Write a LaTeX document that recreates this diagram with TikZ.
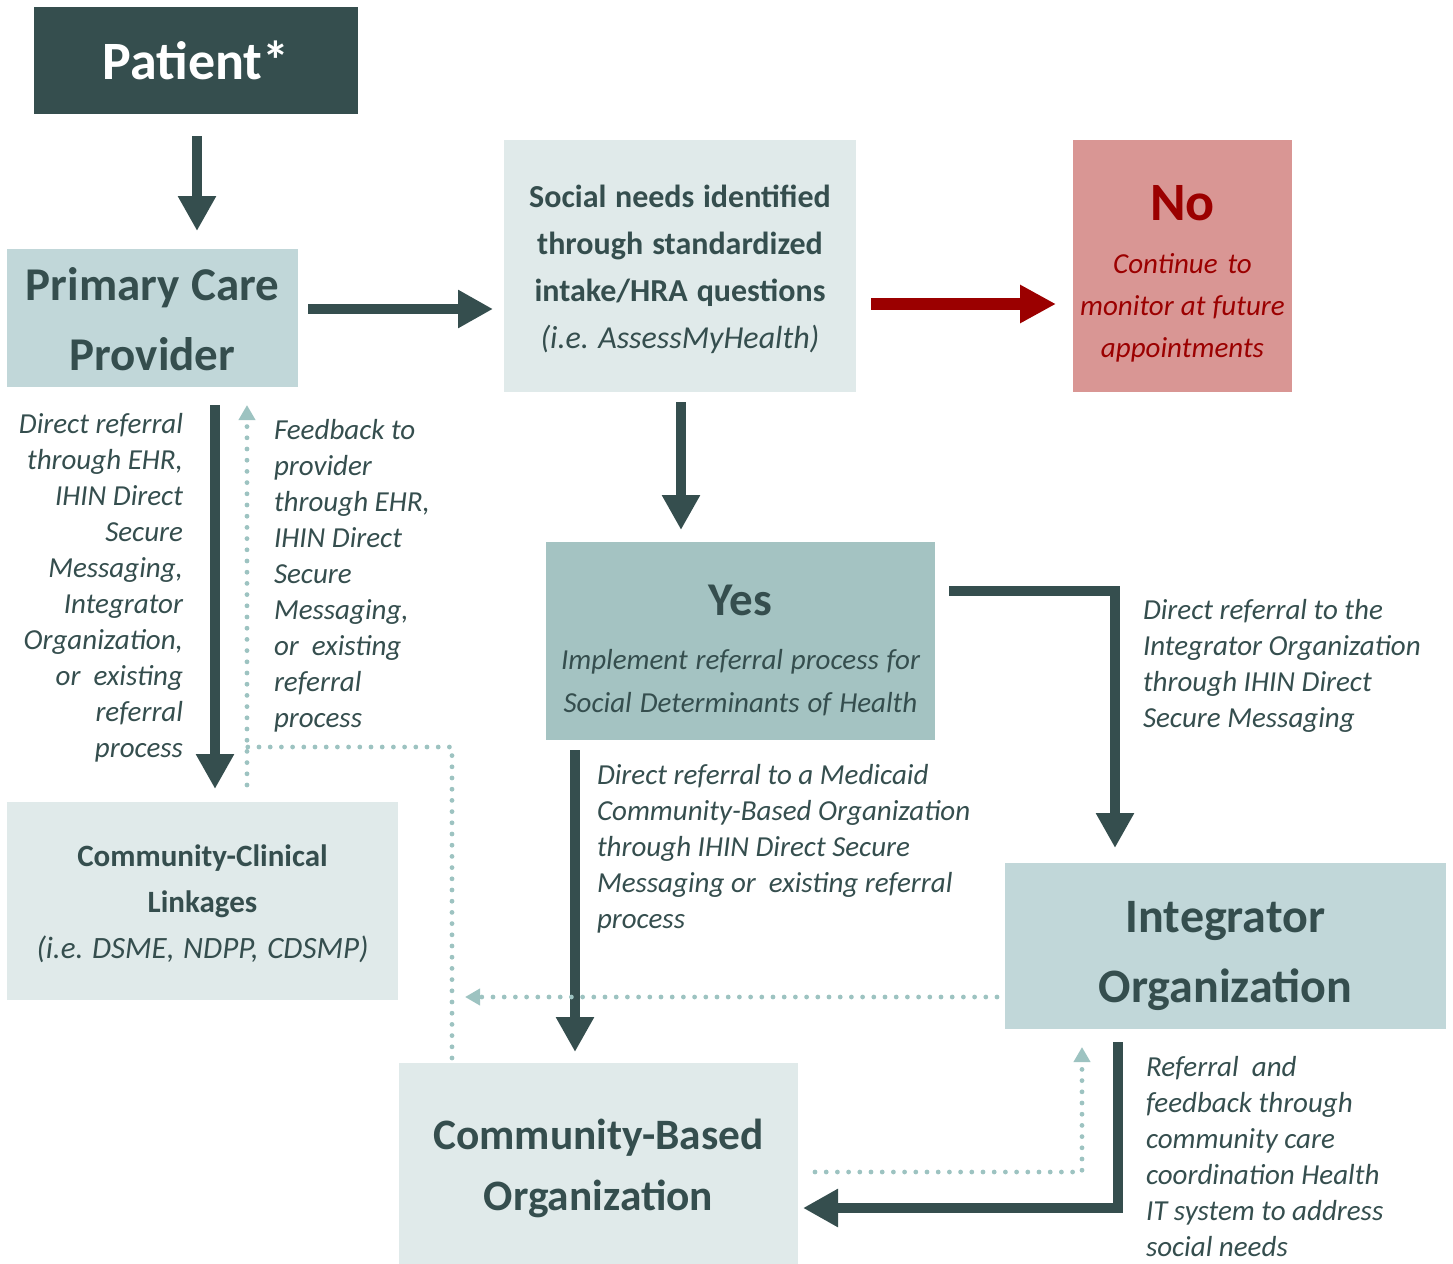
\documentclass[tikz,border=0pt]{standalone}
\usepackage{fontspec}
\setmainfont{Carlito}
\usetikzlibrary{arrows.meta}
\definecolor{dk}{RGB}{53,78,78}
\definecolor{lt}{RGB}{193,215,217}
\definecolor{pale}{RGB}{224,234,234}
\definecolor{mid}{RGB}{164,195,194}
\definecolor{pink}{RGB}{217,150,148}
\definecolor{rd}{RGB}{155,0,0}
\definecolor{dot}{RGB}{157,195,193}
\newcommand{\topstrut}[2]{\rule{0pt}{\dimexpr\fontcharht\font`#1+#2\relax}}
\newcommand{\natsp}{\spaceskip=0pt\xspaceskip=0pt\relax}
\begin{document}
\frenchspacing
\begin{tikzpicture}[x=0.5pt,y=-0.5pt,
  box/.style={inner sep=0pt, outer sep=0pt, anchor=north west, align=center, text=dk},
  bigarrow/.style={draw=dk, line width=5pt, -{Triangle[length=17.5pt,width=18pt]}},
  redarrow/.style={draw=rd, line width=6pt, -{Triangle[length=18pt,width=18pt]}},
  dotline/.style={draw=dot, line width=2.4pt, line cap=round, dash pattern=on 0pt off 5.6pt},
  dotarrow/.style={dotline, -{Triangle[length=7.5pt,width=8pt]}},
  lbl/.style={inner sep=0pt, outer sep=0pt, text=dk, font=\fontsize{14.5}{18}\selectfont\itshape}
]
\useasboundingbox (0,0) rectangle (1453,1264);
% boxes
\node[box, fill=dk, text=white, minimum width=162pt, minimum height=53.5pt,
  font=\fontsize{27}{32}\selectfont\bfseries] (patient) at (34,7) {Patient*};
\node[box, fill=lt, minimum width=145.5pt, minimum height=69pt, text width=145.5pt,
  font=\fontsize{23.5}{35}\selectfont\bfseries] (pcp) at (7,249) {\natsp\topstrut{P}{2pt}Primary Care\\Provider};
\node[box, fill=pale, minimum width=176pt, minimum height=126pt, text width=176pt,
  font=\fontsize{16}{23.5}\selectfont\bfseries] (social) at (504,140)
  {\natsp\topstrut{S}{4.5pt}Social needs identified\\through standardized\\intake/HRA questions\\{\mdseries\itshape (i.e. AssessMyHealth)}};
\node[box, fill=pink, minimum width=109.5pt, minimum height=126pt, text=rd, text width=109.5pt] (no) at (1073,140)
  {{\fontsize{27}{27}\selectfont\bfseries\natsp\topstrut{N}{7.5pt}No\par}\vspace{5.5pt}
   {\fontsize{14.5}{21}\selectfont\itshape\natsp Continue to\\monitor at future\\appointments\par}};
\node[box, fill=mid, minimum width=194.5pt, minimum height=99pt, text width=194.5pt] (yes) at (546,542)
  {{\fontsize{23.5}{23.5}\selectfont\bfseries\natsp\topstrut{Y}{9.5pt}Yes\par}\vspace{5.5pt}
   {\fontsize{14.5}{21.5}\selectfont\itshape\natsp Implement referral process for\\Social Determinants of Health\par}};
\node[box, fill=pale, minimum width=195.5pt, minimum height=99pt, text width=195.5pt,
  font=\fontsize{15.5}{23}\selectfont\bfseries] (ccl) at (7,802)
  {\natsp\topstrut{C}{4pt}Community-Clinical\\Linkages\\{\mdseries\itshape (i.e. DSME, NDPP, CDSMP)}};
\node[box, fill=lt, minimum width=220.5pt, minimum height=83pt, text width=220.5pt,
  font=\fontsize{24}{35}\selectfont\bfseries] (integ) at (1005,863) {\natsp\topstrut{I}{9.5pt}Integrator\\Organization};
\node[box, fill=pale, minimum width=199.5pt, minimum height=100.5pt, text width=199.5pt,
  font=\fontsize{21.7}{30.5}\selectfont\bfseries] (cbo) at (399,1063) {\natsp\topstrut{C}{6.5pt}Community-Based\\Organization};
% labels
\node[lbl, anchor=north east, align=right] (l1) at (183,413)
  {Direct referral\\through EHR,\\IHIN Direct\\Secure\\Messaging,\\Integrator\\Organization,\\or\ \ existing\\referral\\process};
\node[lbl, anchor=north west, align=left] (l2) at (274,419)
  {Feedback to\\provider\\through EHR,\\IHIN Direct\\Secure\\Messaging,\\or\ \ existing\\referral\\process};
\node[lbl, anchor=north west, align=left] (l3) at (1143,599)
  {Direct referral to the\\Integrator Organization\\through IHIN Direct\\Secure Messaging};
\node[lbl, anchor=north west, align=left] (l4) at (597,764)
  {Direct referral to a Medicaid\\Community-Based Organization\\through IHIN Direct Secure\\Messaging or\ \ existing referral\\process};
\node[lbl, anchor=north west, align=left] (l5) at (1146,1056)
  {Referral\ \ and\\feedback through\\community care\\coordination Health\\IT system to address\\social needs};
\coordinate (fbcorner) at (452,747);
\coordinate (fbjoin) at (465,997);
% connectors
\draw[bigarrow, shorten <=11pt, shorten >=9pt] ([xshift=0.5pt]patient.south) -- ([xshift=0.5pt]patient.south |- pcp.north);
\draw[bigarrow, shorten <=5pt, shorten >=5.5pt] ([yshift=4.5pt]pcp.east) -- ([yshift=4.5pt]pcp.east -| social.west);
\draw[redarrow, shorten <=7.5pt, shorten >=8.5pt] ([yshift=-19pt]social.east) -- ([yshift=-19pt]social.east -| no.west);
\draw[bigarrow, shorten <=5pt, shorten >=6pt] ([xshift=0.5pt]social.south) -- ([xshift=0.5pt]social.south |- yes.north);
\draw[bigarrow, shorten <=9pt, shorten >=6.5pt] ([xshift=31.25pt]pcp.south) -- ([xshift=31.25pt]pcp.south |- ccl.north);
\draw[dotarrow, shorten <=8.5pt, shorten >=9pt] ([xshift=47.25pt]pcp.south |- ccl.north) -- ([xshift=47.25pt]pcp.south);
\draw[dotline, shorten <=2.5pt] ([xshift=-73.25pt]cbo.north) -- (fbcorner) -- ([xshift=47.25pt]pcp.south |- fbcorner);
\draw[bigarrow, shorten <=7pt, shorten >=7.5pt] ([yshift=25pt]yes.east) -| ([xshift=-55.25pt]integ.north);
\draw[bigarrow, shorten <=5pt, shorten >=5.5pt] ([xshift=-82.75pt]yes.south) -- ([xshift=-82.75pt]yes.south |- cbo.north);
\draw[dotarrow, shorten <=4pt] ([yshift=-25.5pt]integ.west) -- (fbjoin);
\draw[bigarrow, shorten <=6.5pt] ([xshift=-53.75pt]integ.south) |- ([xshift=2.5pt,yshift=-22.25pt]cbo.east);
\draw[dotarrow, shorten <=8.5pt, shorten >=9pt] ([yshift=-4.25pt]cbo.east) -| ([xshift=-71.75pt]integ.south);
\end{tikzpicture}
\end{document}
